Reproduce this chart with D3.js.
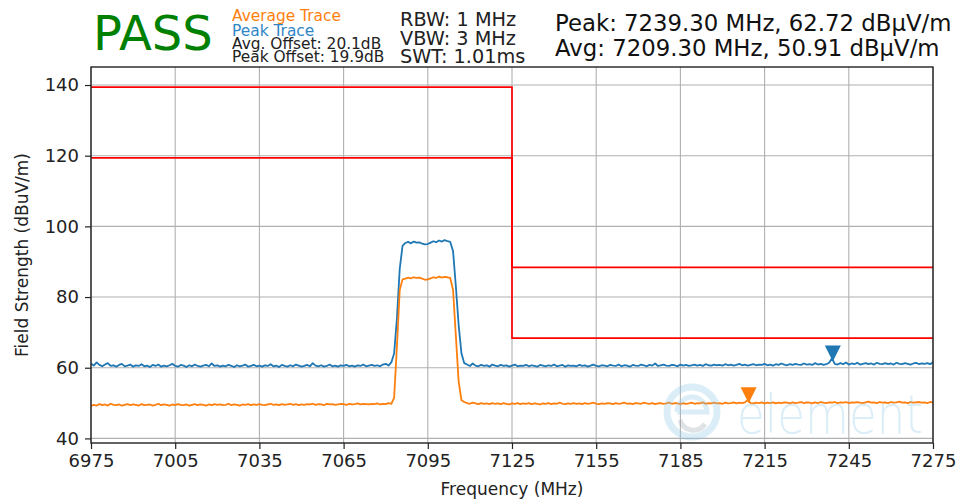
<!DOCTYPE html>
<html><head><meta charset="utf-8">
<script src="https://cdn.jsdelivr.net/npm/d3@7/dist/d3.min.js"></script>
<style>body{margin:0;background:#fff}svg{display:block}text{font-family:"DejaVu Sans",sans-serif}</style>
</head><body><svg id="c" width="961" height="501"></svg>
<script>
const xTicks=[6975,7005,7035,7065,7095,7125,7155,7185,7215,7245,7275];
const yTicks=[40,60,80,100,120,140];
const freqStart=6975, freqStep=1;
const peakTrace=[
61.2,60.6,61.5,60.8,60.4,60.9,61.3,60.5,60.7,60.3,
60.8,61.1,60.4,60.6,60.9,60.3,60.7,60.5,61.0,60.4,
60.6,60.2,60.8,60.5,60.9,60.3,60.6,60.4,60.7,61.1,
60.5,60.3,60.8,60.6,60.2,60.7,60.4,60.9,60.5,60.3,
60.6,60.8,60.4,61.2,60.5,60.7,60.3,60.6,60.4,60.8,
60.5,60.2,60.7,60.4,60.6,60.9,60.3,60.5,60.8,60.4,
60.6,60.3,60.7,60.5,61.0,60.4,60.6,60.2,60.8,60.5,
60.3,60.7,60.4,60.9,60.6,60.3,60.5,60.8,60.4,61.3,
60.6,60.4,60.7,60.3,60.5,60.9,60.4,60.6,60.3,60.7,
60.5,60.8,60.4,60.6,60.3,60.7,60.5,60.9,60.4,60.6,
60.8,60.5,60.7,60.4,60.9,61.1,60.6,
61.5,64.0,74.0,88.0,94.5,
95.3,95.6,95.2,95.7,95.4,95.5,95.1,94.9,95.0,95.4,95.8,95.5,96.0,95.7,96.1,95.8,95.6,
93.0,83.0,72.0,64.0,61.3,
60.9,60.5,61.2,60.6,60.4,60.8,60.5,60.7,60.3,60.9,
60.6,60.4,60.8,60.5,60.7,60.3,60.6,60.9,60.4,60.6,
60.5,60.8,60.4,60.7,60.5,60.3,60.8,60.6,60.4,60.7,
60.5,60.9,60.4,60.6,60.8,60.3,60.7,60.5,60.6,60.4,
60.8,60.5,60.7,60.3,60.6,60.9,60.5,60.4,60.7,60.6,
60.4,60.8,60.6,60.5,60.9,60.4,60.7,60.6,60.3,60.8,
60.6,60.5,60.9,60.7,60.4,60.8,60.6,61.2,60.5,60.7,
60.9,60.6,60.5,60.8,60.7,60.4,60.9,60.6,60.8,60.5,
60.7,60.9,60.6,60.8,60.5,61.0,60.7,60.6,60.9,60.7,
60.8,60.6,61.0,60.7,60.9,60.6,60.8,61.1,60.7,60.9,
60.6,60.8,61.0,60.7,60.9,60.8,61.1,60.7,60.9,60.6,
61.0,60.8,61.2,60.9,60.7,61.0,60.8,61.1,60.9,60.8,
61.2,60.9,61.0,60.8,61.3,60.9,61.1,60.8,61.0,61.4,
62.7,61.1,60.9,61.3,61.0,61.5,60.9,61.2,61.0,61.4,
60.9,61.1,61.3,61.0,61.2,60.9,61.4,61.1,61.0,61.3,
61.0,61.2,60.9,61.4,61.1,61.0,61.3,61.1,60.9,61.2,
61.4,61.0,61.2,61.1,61.3,61.0,61.6];
const avgTrace=[
49.2,49.5,49.3,49.7,49.4,49.6,49.3,49.8,49.5,49.4,
49.6,49.3,49.5,49.7,49.4,49.6,49.5,49.3,49.7,49.4,
49.5,49.6,49.3,49.5,49.8,49.4,49.6,49.5,49.3,49.6,
49.4,49.7,49.5,49.4,49.6,49.3,49.5,49.7,49.4,49.6,
49.5,49.3,49.6,49.4,49.7,49.5,49.6,49.4,49.5,49.8,
49.4,49.6,49.5,49.3,49.6,49.5,49.7,49.4,49.6,49.5,
49.7,49.5,49.4,49.6,49.8,49.5,49.6,49.4,49.7,49.5,
49.6,49.8,49.5,49.7,49.4,49.6,49.5,49.7,49.6,49.8,
49.5,49.7,49.6,49.4,49.8,49.6,49.7,49.5,49.6,49.8,
49.7,49.5,49.8,49.6,49.7,49.9,49.6,49.8,49.7,49.6,
49.8,49.7,49.9,49.6,49.8,49.7,50.0,49.8,
51.5,66.0,82.0,85.0,
85.2,85.5,85.3,85.6,85.4,85.5,85.2,84.9,85.0,85.3,85.6,85.4,85.8,85.5,85.7,85.6,85.4,
82.0,69.0,56.0,50.8,
50.3,50.0,49.8,50.1,49.9,49.7,50.0,49.8,49.9,49.7,
50.0,49.8,49.9,49.7,50.0,49.8,49.6,49.9,49.8,50.0,
49.7,49.9,49.8,50.0,49.7,49.9,49.8,49.6,49.9,49.8,
50.0,49.7,49.9,49.8,50.1,49.8,49.7,49.9,49.8,50.0,
49.8,49.9,49.7,50.0,49.8,49.9,50.1,49.8,49.7,49.9,
49.8,50.0,49.9,49.7,50.0,49.8,49.9,50.1,49.8,49.9,
49.7,50.0,49.9,49.8,50.1,49.9,49.8,50.0,49.7,49.9,
50.0,49.8,49.9,50.1,49.8,50.0,49.9,49.7,50.0,49.8,
49.9,50.1,49.8,50.0,49.9,50.2,49.8,50.0,49.9,50.1,
49.9,50.0,49.8,50.1,49.9,50.0,50.2,49.9,50.1,50.0,
50.2,50.91,50.0,49.9,50.1,50.0,50.2,49.9,50.1,50.0,
50.2,49.9,50.1,50.0,50.2,50.1,49.9,50.2,50.0,50.1,
50.3,50.0,50.2,50.1,49.9,50.2,50.0,50.3,50.1,50.0,
50.2,50.1,50.3,50.0,50.2,50.1,50.3,50.0,50.2,50.1,
50.3,50.1,50.0,50.2,50.4,50.1,50.2,50.0,50.3,50.1,
50.2,50.0,50.3,50.1,50.2,50.4,50.1,50.2,50.0,50.3,
50.1,50.2,50.3,50.1,50.2,50.0,50.3,50.2];
const limitFreqs=[6975,7125,7275];
const peakLimits=[139.4,88.4];
const avgLimits=[119.4,68.4];
const peakMarker={f:7239.3,v:62.72};
const avgMarker={f:7209.3,v:50.91};

const svg=d3.select("#c");
const L=91,R=933,T=67,B=443;
const x=d3.scaleLinear([6975,7275],[L,R]);
const y=d3.scaleLinear([38.7,145.1],[B,T]);
svg.append("clipPath").attr("id","pc").append("rect").attr("x",L).attr("y",T).attr("width",R-L).attr("height",B-T);

// grid
const g=svg.append("g");
g.selectAll(".vg").data(xTicks).join("line").attr("x1",d=>x(d)).attr("x2",d=>x(d)).attr("y1",T).attr("y2",B).attr("stroke","#b0b0b0").attr("stroke-width",1.1);
g.selectAll(".hg").data(yTicks).join("line").attr("y1",d=>y(d)).attr("y2",d=>y(d)).attr("x1",L).attr("x2",R).attr("stroke","#b0b0b0").attr("stroke-width",1.1);

const plot=svg.append("g").attr("clip-path","url(#pc)");
const line=d3.line().x((d,i)=>x(freqStart+i*freqStep)).y(d=>y(d));
plot.append("path").attr("d",line(peakTrace)).attr("fill","none").attr("stroke","#1f77b4").attr("stroke-width",1.8).attr("stroke-linejoin","round");
plot.append("path").attr("d",line(avgTrace)).attr("fill","none").attr("stroke","#ff7f0e").attr("stroke-width",1.8).attr("stroke-linejoin","round");

function stepPts(vals){return [[limitFreqs[0],vals[0]],[limitFreqs[1],vals[0]],[limitFreqs[1],vals[1]],[limitFreqs[2],vals[1]]];}
const ln2=d3.line().x(d=>x(d[0])).y(d=>y(d[1]));
[peakLimits,avgLimits].forEach(v=>plot.append("path").attr("d",ln2(stepPts(v))).attr("fill","none").attr("stroke","#ff0000").attr("stroke-width",1.7));

// markers
function tri(m,color){
  const cx=x(m.f), cy=y(m.v)-4.5, s=8;
  plot.append("path").attr("d",`M${cx-s},${cy-s}L${cx+s},${cy-s}L${cx},${cy+s}Z`).attr("fill",color);
}
tri(peakMarker,"#1f77b4");
tri(avgMarker,"#ff7f0e");

// watermark
const wm=plot.append("g").attr("opacity",0.3);
wm.append("circle").attr("cx",692).attr("cy",412).attr("r",25).attr("fill","none").attr("stroke","#8cc8e6").attr("stroke-width",7);
wm.append("path").attr("d","M677,412 A15,15 0 0 1 707,412 L677,412").attr("fill","none").attr("stroke","#8cc8e6").attr("stroke-width",5);
wm.append("path").attr("d","M680,420 A14,14 0 0 0 705,424").attr("fill","none").attr("stroke","#9aa6b0").attr("stroke-width",5);
wm.append("text").attr("x",737).attr("y",433).attr("font-size",54).attr("font-weight",200).attr("fill","#8cc8e6")
  .attr("textLength",186).attr("lengthAdjust","spacingAndGlyphs").text("element");

// axes
const ax=d3.axisBottom(x).tickValues(xTicks).tickSize(6).tickPadding(5).tickFormat(d3.format("d"));
const xg=svg.append("g").attr("transform",`translate(0,${B})`).call(ax);
const ay=d3.axisLeft(y).tickValues(yTicks).tickSize(6).tickPadding(6).tickFormat(d3.format("d"));
const yg=svg.append("g").attr("transform",`translate(${L},0)`).call(ay);
[xg,yg].forEach(a=>{a.select(".domain").remove();a.selectAll("text").attr("font-size",18).attr("fill","#222").attr("font-family","DejaVu Sans");a.selectAll("line").attr("stroke","#222").attr("stroke-width",1.2);});
svg.append("rect").attr("x",L).attr("y",T).attr("width",R-L).attr("height",B-T).attr("fill","none").attr("stroke","#222").attr("stroke-width",1.4);

svg.append("text").attr("x",(L+R)/2).attr("y",495).attr("text-anchor","middle").attr("font-size",17).attr("fill","#222").text("Frequency (MHz)");
svg.append("text").attr("transform",`translate(28,${(T+B)/2}) rotate(-90)`).attr("text-anchor","middle").attr("font-size",17).attr("fill","#222").text("Field Strength (dBuV/m)");

// header
svg.append("text").attr("x",93).attr("y",50).attr("font-size",48).attr("fill","#008000").text("PASS");
svg.append("text").attr("x",232).attr("y",21).attr("font-size",15.4).attr("fill","#ff7f0e").text("Average Trace");
svg.append("text").attr("x",232).attr("y",35.5).attr("font-size",15.4).attr("fill","#2f86c6").text("Peak Trace");
svg.append("text").attr("x",232).attr("y",48.5).attr("font-size",15.4).attr("fill","#222").text("Avg. Offset: 20.1dB");
svg.append("text").attr("x",232).attr("y",62).attr("font-size",15.4).attr("fill","#222").text("Peak Offset: 19.9dB");
svg.append("text").attr("x",400).attr("y",26).attr("font-size",19.3).attr("fill","#222").text("RBW: 1 MHz");
svg.append("text").attr("x",400).attr("y",44.5).attr("font-size",19.3).attr("fill","#222").text("VBW: 3 MHz");
svg.append("text").attr("x",400).attr("y",63).attr("font-size",19.3).attr("fill","#222").text("SWT: 1.01ms");
svg.append("text").attr("x",555).attr("y",31).attr("font-size",22.8).attr("fill","#111").text("Peak: 7239.30 MHz, 62.72 dBµV/m");
svg.append("text").attr("x",555).attr("y",56).attr("font-size",22.8).attr("fill","#111").text("Avg: 7209.30 MHz, 50.91 dBµV/m");
</script></body></html>
